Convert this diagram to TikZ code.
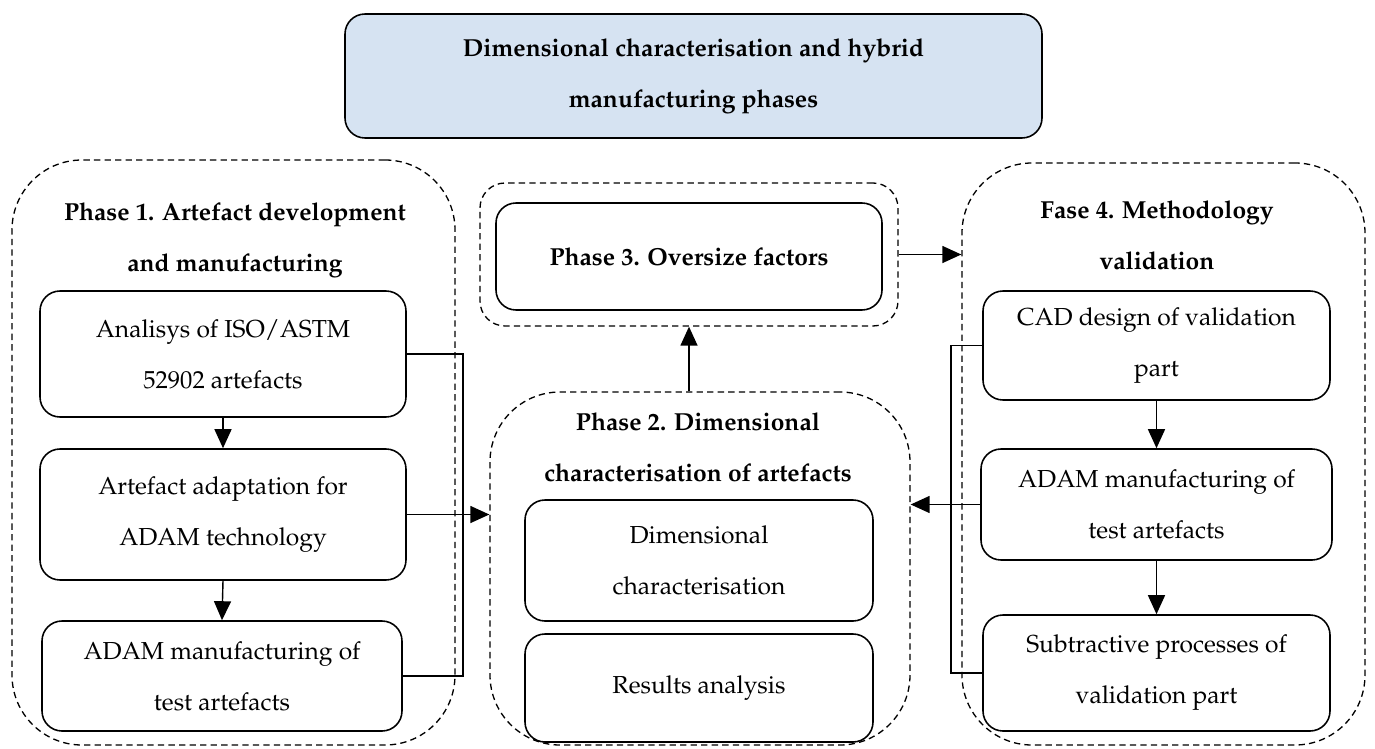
\documentclass[tikz,border=0pt]{standalone}
\usepackage[T1]{fontenc}
\usepackage{mathpazo}
\usetikzlibrary{arrows.meta}
\definecolor{titleblue}{HTML}{D6E3F2}

\begin{document}
\begin{tikzpicture}[
    box/.style={rectangle, draw, rounded corners=0.4cm, line width=0.9pt, align=center, inner sep=0pt},
    phase/.style={rectangle, draw, dash pattern=on 3.6pt off 2.4pt, rounded corners=1.4cm, line width=0.75pt},
    ttl/.style={align=center, font=\fontsize{14}{29}\selectfont\bfseries},
    arr/.style={-{Triangle[length=0.38cm,width=0.34cm]}, line width=0.8pt},
    brk/.style={line width=1.1pt},
    font=\fontsize{14}{29}\selectfont
]
\useasboundingbox (0,0) rectangle (27.5,-14.98);

% heading
\node[box, fill=titleblue, minimum width=13.94cm, minimum height=2.48cm, font=\fontsize{14}{29}\selectfont\bfseries] (title) at (13.87,-1.52) {Dimensional characterisation and hybrid\\manufacturing phases};

% dashed phase frames
\node[phase, minimum width=8.86cm, minimum height=11.7cm] (p1) at (4.67,-9.05) {};
\node[phase, minimum width=8.4cm, minimum height=7.06cm] (p2) at (14.0,-11.37) {};
\node[phase, rounded corners=0.5cm, minimum width=8.36cm, minimum height=2.86cm] (p3) at (13.78,-5.09) {};
\node[phase, minimum width=8.06cm, minimum height=11.64cm] (p4) at (23.27,-9.08) {};

% Phase 1
\node[ttl] (p1title) at (4.7,-4.8) {Phase 1. Artefact development\\and manufacturing};
\node[box, minimum width=7.32cm, minimum height=2.52cm] (a1) at (4.46,-7.08) {Analisys of ISO/ASTM\\52902 artefacts};
\node[box, minimum width=7.32cm, minimum height=2.62cm] (a2) at (4.46,-10.29) {Artefact adaptation for\\ADAM technology};
\node[box, minimum width=7.2cm, minimum height=2.2cm] (a3) at (4.44,-13.52) {ADAM manufacturing of\\test artefacts};

% Phase 2
\node[ttl] (p2title) at (13.96,-8.95) {Phase 2. Dimensional\\characterisation of artefacts};
\node[box, minimum width=6.96cm, minimum height=2.42cm] (b1) at (13.98,-11.21) {Dimensional\\characterisation};
\node[box, minimum width=6.96cm, minimum height=2.16cm] (b2) at (13.98,-13.76) {Results analysis};

% Phase 3
\node[box, minimum width=7.72cm, minimum height=2.14cm, font=\fontsize{14}{29}\selectfont\bfseries] (c1) at (13.78,-5.13) {Phase 3. Oversize factors};

% Phase 4
\node[ttl] (p4title) at (23.14,-4.7) {Fase 4. Methodology\\validation};
\node[box, minimum width=6.94cm, minimum height=2.18cm] (d1) at (23.13,-6.91) {CAD design of validation\\part};
\node[box, minimum width=7.02cm, minimum height=2.22cm] (d2) at (23.13,-10.09) {ADAM manufacturing of\\test artefacts};
\node[box, minimum width=6.94cm, minimum height=2.32cm] (d3) at (23.13,-13.46) {Subtractive processes of\\validation part};

% connectors
\coordinate (lbrk) at (9.26,0);
\coordinate (rbrk) at (19.02,0);
\draw[arr] (a1.south) -- (a2.north);
\draw[arr] (a2.south) -- (a3.north);
\draw[brk] (a1.east) -- (a1.east -| lbrk) |- (a3.east);
\draw[arr] (a2.east) -- (a2.east -| p2.west);
\draw[arr] (p3.south |- p2.north) -- (p3.south);
\draw[arr] (p3.east) -- (p3.east -| p4.west);
\draw[arr] (d1.south) -- (d2.north);
\draw[arr] (d2.south) -- (d3.north);
\draw[brk] (d1.west) -- (d1.west -| rbrk) |- (d3.west);
\draw[arr] (d2.west) -- (d2.west -| p2.east);
\end{tikzpicture}
\end{document}
